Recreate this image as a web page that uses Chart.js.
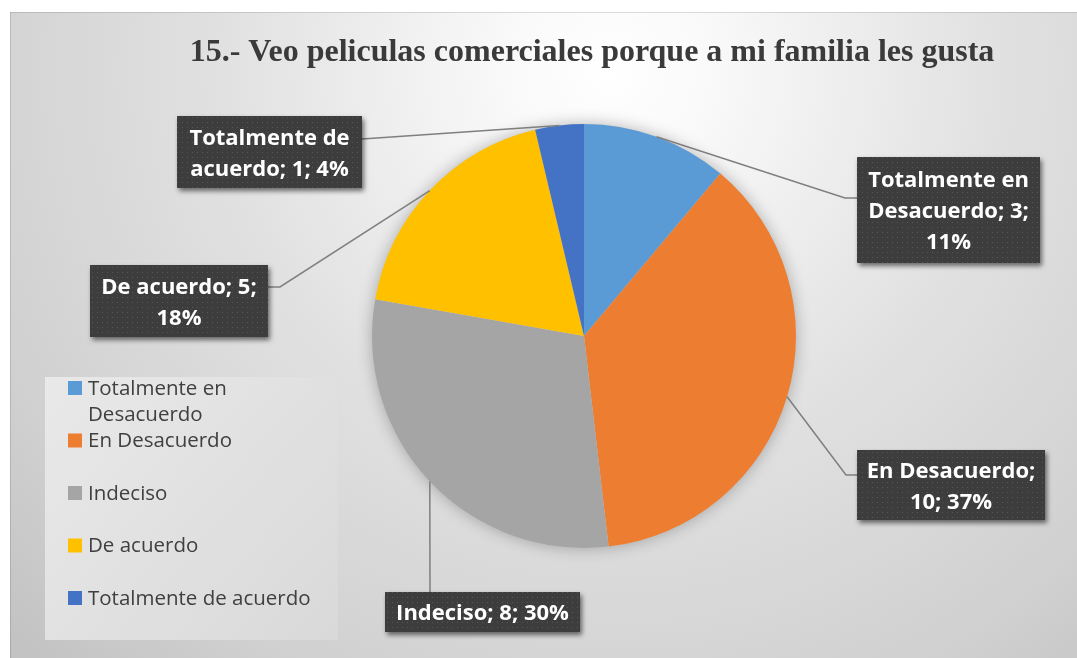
<!DOCTYPE html>
<html><head><meta charset="utf-8">
<script src="https://cdn.jsdelivr.net/npm/chart.js@4"></script>
<style>html,body{margin:0;padding:0;background:#fff;overflow:hidden}</style>
</head><body><canvas id="c" width="1077" height="658" style="width:1077px;height:658px;display:block"></canvas>
<script>
const chartTitle = "15.- Veo peliculas comerciales porque a mi familia les gusta";
const categories = ["Totalmente en Desacuerdo","En Desacuerdo","Indeciso","De acuerdo","Totalmente de acuerdo"];
const counts = [3,10,8,5,1];
const percentLabels = ["11%","37%","30%","18%","4%"];
const colors = ["#5B9BD5","#ED7D31","#A5A5A5","#FFC000","#4472C4"];

// layout of the data-label callouts (positions only)
const callouts = [
  {box:[857,157,183,106], pts:[[845,198],[857,198]]},
  {box:[857,450,188,70],  pts:[[846,475],[857,475]]},
  {box:[385,592,195,40],  pts:[[430,592]]},
  {box:[90,265,178,72],   pts:[[280,287],[268,287]]},
  {box:[177,116,185,72],  pts:[[362,139]]}
];
const LABEL_FONT = "bold 22px 'Open Sans'";
const LEGEND_FONT = "20.5px 'Open Sans'";

function wrap(ctx, text, maxW){
  const words = text.split(' '); const lines=[]; let cur='';
  for(const w of words){
    const t = cur ? cur+' '+w : w;
    if(ctx.measureText(t).width > maxW && cur){ lines.push(cur); cur=w; } else cur=t;
  }
  if(cur) lines.push(cur);
  return lines;
}

let pattern=null;
function getPattern(ctx){
  if(pattern) return pattern;
  const c=document.createElement('canvas'); c.width=5; c.height=5;
  const g=c.getContext('2d'); g.fillStyle='#3d3d3d'; g.fillRect(0,0,5,5);
  g.fillStyle='#575757'; g.fillRect(2,2,1,1);
  pattern=ctx.createPattern(c,'repeat'); return pattern;
}

const decor = {
  id:'decor',
  beforeDraw(chart){
    const ctx=chart.ctx; ctx.save();
    ctx.fillStyle='#fff'; ctx.fillRect(0,0,1077,658);
    const g=ctx.createRadialGradient(610,70,0,610,70,860);
    g.addColorStop(0,'#ffffff');
    g.addColorStop(0.12,'#f9f9f9');
    g.addColorStop(0.45,'#e1e1e1');
    g.addColorStop(0.78,'#d0d0d0');
    g.addColorStop(1,'#c0c0c0');
    ctx.fillStyle=g; ctx.fillRect(10,12,1067,646);
    ctx.fillStyle='rgba(0,0,0,0.12)'; ctx.fillRect(10,12,1067,1); ctx.fillRect(10,12,1,646);
    // title
    ctx.fillStyle='#3a3a3a'; ctx.font='bold 32px "Liberation Serif"';
    ctx.textAlign='center'; ctx.textBaseline='middle';
    ctx.fillText(chartTitle,592,53);
    // legend
    const lg=ctx.createLinearGradient(45,377,338,640);
    lg.addColorStop(0,'#e9e9e9'); lg.addColorStop(1,'#d9d9d9');
    ctx.fillStyle=lg; ctx.fillRect(45,377,293,263);
    ctx.font=LEGEND_FONT; ctx.textAlign='left'; ctx.textBaseline='middle';
    chart.data.labels.forEach((lab,i)=>{
      const y=388+i*52.5;
      ctx.fillStyle=chart.data.datasets[0].backgroundColor[i];
      ctx.fillRect(68,y-7,14,14);
      ctx.fillStyle='#404040';
      wrap(ctx,lab,245).forEach((ln,k)=>ctx.fillText(ln,88,y+1+k*26));
    });
    ctx.restore();
  },
  beforeDatasetsDraw(chart){
    const a=chart.getDatasetMeta(0).data[0]; const ctx=chart.ctx;
    ctx.save(); ctx.shadowColor='rgba(0,0,0,0.28)'; ctx.shadowBlur=16;
    ctx.fillStyle='#ccc'; ctx.beginPath(); ctx.arc(a.x,a.y,a.outerRadius,0,Math.PI*2); ctx.fill();
    ctx.restore();
  },
  afterDatasetsDraw(chart){
    const ctx=chart.ctx; const meta=chart.getDatasetMeta(0);
    const ds=chart.data.datasets[0];
    meta.data.forEach((arc,i)=>{
      const c=callouts[i];
      const mid=(arc.startAngle+arc.endAngle)/2;
      const ax=arc.x+Math.cos(mid)*arc.outerRadius, ay=arc.y+Math.sin(mid)*arc.outerRadius;
      ctx.save();
      ctx.strokeStyle='#7f7f7f'; ctx.lineWidth=1.5;
      ctx.beginPath(); ctx.moveTo(ax,ay);
      c.pts.forEach(p=>ctx.lineTo(p[0], p[1]));
      ctx.stroke();
      const [bx,by,bw,bh]=c.box;
      ctx.shadowColor='rgba(0,0,0,0.55)'; ctx.shadowBlur=5; ctx.shadowOffsetX=2; ctx.shadowOffsetY=3;
      ctx.fillStyle=getPattern(ctx); ctx.fillRect(bx,by,bw,bh);
      ctx.restore();
      ctx.save();
      ctx.font=LABEL_FONT; ctx.fillStyle='#ffffff'; ctx.textAlign='center'; ctx.textBaseline='middle';
      const text=chart.data.labels[i]+'; '+ds.data[i]+'; '+percentLabels[i];
      const lines=wrap(ctx,text,bw-4);
      const lh=31; const y0=by+bh/2-(lines.length-1)*lh/2+2;
      lines.forEach((ln,k)=>ctx.fillText(ln,bx+bw/2,y0+k*lh));
      ctx.restore();
    });
  }
};

new Chart(document.getElementById('c'),{
  type:'pie',
  data:{labels:categories,datasets:[{data:counts,backgroundColor:colors,borderWidth:0,hoverOffset:0}]},
  options:{
    responsive:false, animation:false, devicePixelRatio:1,
    layout:{padding:{left:372,right:281,top:124,bottom:110}},
    plugins:{legend:{display:false},tooltip:{enabled:false},title:{display:false}},
    events:[]
  },
  plugins:[decor]
});
</script></body></html>
